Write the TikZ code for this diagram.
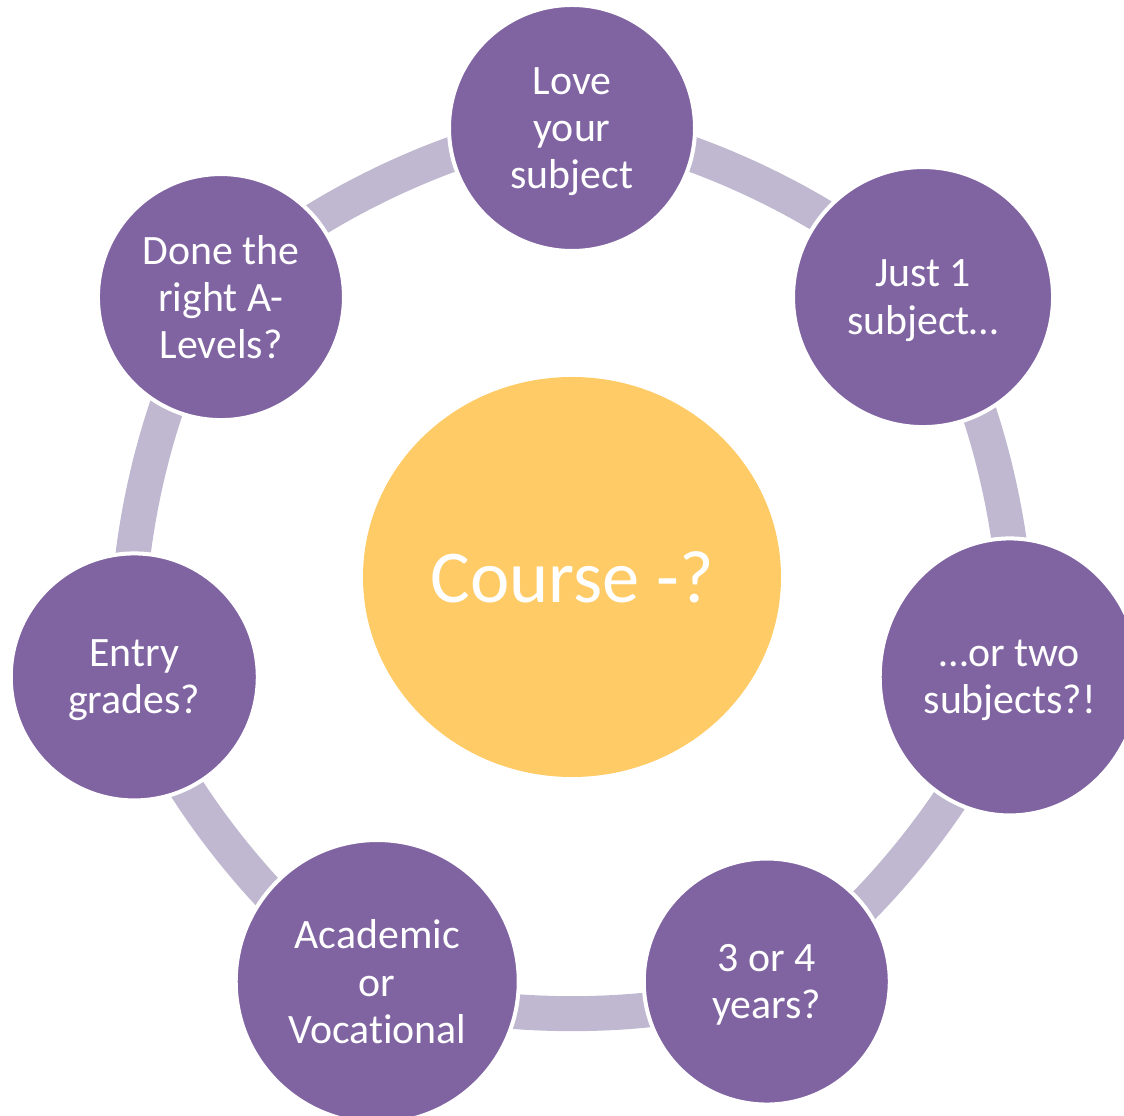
\documentclass[tikz,border=0pt]{standalone}
\usepackage{fontspec}
\setmainfont{Carlito}[Ligatures=NoCommon]
\usetikzlibrary{shapes.geometric}
\usetikzlibrary{backgrounds}
\definecolor{petal}{RGB}{128,100,162}
\definecolor{petallink}{RGB}{191,184,208}
\definecolor{hub}{RGB}{254,203,102}
\tikzset{bubble/.style={circle,fill=petal,draw=white,line width=0.04cm,inner sep=0pt,minimum size=2.46cm,text=white,align=center,text depth=0pt,font=\fontsize{11.9}{13.4}\selectfont},
link/.style={petallink,line width=0.35cm},
flow/.style={bend left=25.7,looseness=0.65}}

\begin{document}
\begin{tikzpicture}
\useasboundingbox (-5.72,-5.38) rectangle (5.52,5.77);
\node[ellipse,fill=hub,inner sep=0pt,minimum width=4.18cm,minimum height=4cm,text=white,font=\fontsize{21.2}{25}\selectfont] (hub) at (0,0) {Course -?};
\node[bubble] (love) at (90:4.49) {Love\\your\\subject};
\node[bubble,minimum size=2.6cm] (one) at (38.57:4.49) {Just 1\\subject…};
\node[bubble,ellipse,minimum width=2.6cm,minimum height=2.77cm] (two) at (-12.86:4.49) {…or two\\subjects?!};
\node[bubble] (years) at (-64.29:4.49) {3 or 4\\years?};
\node[bubble,minimum size=2.83cm] (kind) at (-115.71:4.49) {Academic\\or\\Vocational};
\node[bubble,minimum size=2.47cm] (grades) at (-167.14:4.49) {Entry\\grades?};
\node[bubble] (alevels) at (141.43:4.49) {Done the\\right A-\\Levels?};
\begin{scope}[on background layer]
\draw[link] (love.center) to[flow] (one.center);
\draw[link] (one.center) to[flow] (two.center);
\draw[link] (two.center) to[flow] (years.center);
\draw[link] (years.center) to[flow] (kind.center);
\draw[link] (kind.center) to[flow] (grades.center);
\draw[link] (grades.center) to[flow] (alevels.center);
\draw[link] (alevels.center) to[flow] (love.center);
\end{scope}
\end{tikzpicture}
\end{document}
